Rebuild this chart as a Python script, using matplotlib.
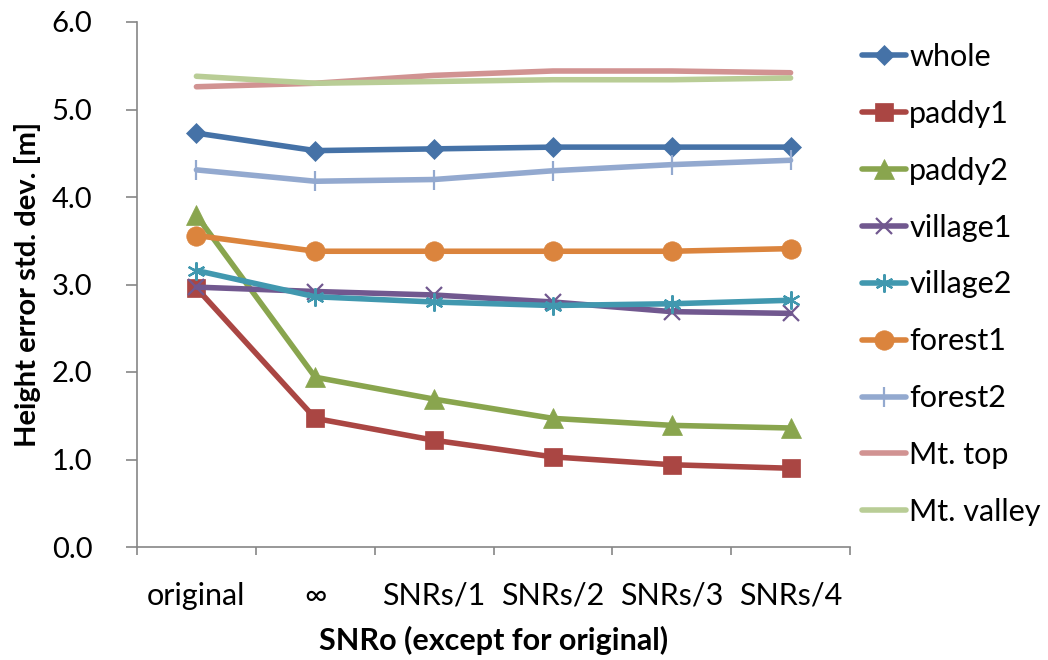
import matplotlib
matplotlib.use("Agg")
import matplotlib.pyplot as plt

plt.rcParams['font.family'] = ['Lato', 'DejaVu Sans']

categories = ["original", "\u221e", "SNRs/1", "SNRs/2", "SNRs/3", "SNRs/4"]

whole = [4.73, 4.53, 4.55, 4.57, 4.57, 4.57]
paddy1 = [2.96, 1.47, 1.22, 1.03, 0.94, 0.90]
paddy2 = [3.79, 1.94, 1.69, 1.47, 1.39, 1.36]
village1 = [2.97, 2.92, 2.88, 2.80, 2.69, 2.67]
village2 = [3.16, 2.86, 2.80, 2.76, 2.78, 2.82]
forest1 = [3.56, 3.38, 3.38, 3.38, 3.38, 3.41]
forest2 = [4.31, 4.18, 4.20, 4.30, 4.37, 4.42]
mt_top = [5.26, 5.30, 5.39, 5.44, 5.44, 5.42]
mt_valley = [5.38, 5.30, 5.32, 5.34, 5.34, 5.36]

series = [
    ("whole", whole, "#4572A7", dict(marker="D", ms=10.5)),
    ("paddy1", paddy1, "#AA4643", dict(marker="s", ms=13)),
    ("paddy2", paddy2, "#89A54E", dict(marker="^", ms=14)),
    ("village1", village1, "#71588F", dict(marker="x", ms=12, mew=1.6)),
    ("village2", village2, "#4198AF", dict(marker=(6, 2, 0), ms=13, mew=1.6)),
    ("forest1", forest1, "#DB843D", dict(marker="o", ms=14)),
    ("forest2", forest2, "#93A9CF", dict(marker="|", ms=15, mew=1.6)),
    ("Mt. top", mt_top, "#D19392", dict(marker="None")),
    ("Mt. valley", mt_valley, "#B9CD96", dict(marker="None")),
]

fig = plt.figure(figsize=(10.48, 6.6), dpi=100)
ax = fig.add_axes([137 / 1048, 1 - 547 / 660, 713 / 1048, 525 / 660])

x = list(range(len(categories)))
for name, vals, color, mk in series:
    kw = dict(mk)
    kw.setdefault("mew", 0.5)
    ax.plot(x, vals, color=color, lw=4.0, label=name,
            markerfacecolor=color, markeredgecolor=color,
            solid_joinstyle="round", solid_capstyle="round", **kw)

ax.set_xlim(-0.5, len(categories) - 0.5)
ax.set_ylim(0, 6)
ax.set_yticks([0, 1, 2, 3, 4, 5, 6])
ax.set_yticklabels([f"{v:.1f}" for v in range(7)])

# category boundaries carry the tick marks, labels sit at the centres
ax.set_xticks([i - 0.5 for i in range(len(categories) + 1)])
ax.set_xticklabels([])
ax.set_xticks(x, minor=True)
ax.set_xticklabels(categories, minor=True)

grey = "#868686"
for side in ("top", "right"):
    ax.spines[side].set_visible(False)
for side in ("left", "bottom"):
    ax.spines[side].set_color(grey)
    ax.spines[side].set_linewidth(1.2)

ax.tick_params(axis="y", which="major", direction="out", length=8, width=1.2,
               color=grey, labelsize=21, pad=24)
ax.tick_params(axis="x", which="major", direction="out", length=6, width=1.2,
               color=grey)
ax.tick_params(axis="x", which="minor", length=0, labelsize=22, pad=25)

ax.set_ylabel("Height error std. dev. [m]", fontsize=21, fontweight="bold",
              va="center")
ax.yaxis.set_label_coords(-0.154, 0.5)
ax.set_xlabel("SNRo (except for original)", fontsize=22, fontweight="bold",
              va="center")
ax.xaxis.set_label_coords(0.5, -0.178)

leg = ax.legend(loc="upper left", bbox_to_anchor=(862 / 1048, 1 - 43 / 660),
                bbox_transform=fig.transFigure, frameon=False, fontsize=22,
                handlelength=1.45, handletextpad=0.1, labelspacing=0.945,
                borderaxespad=0, borderpad=0)

fig.savefig("out.png", dpi=100)
